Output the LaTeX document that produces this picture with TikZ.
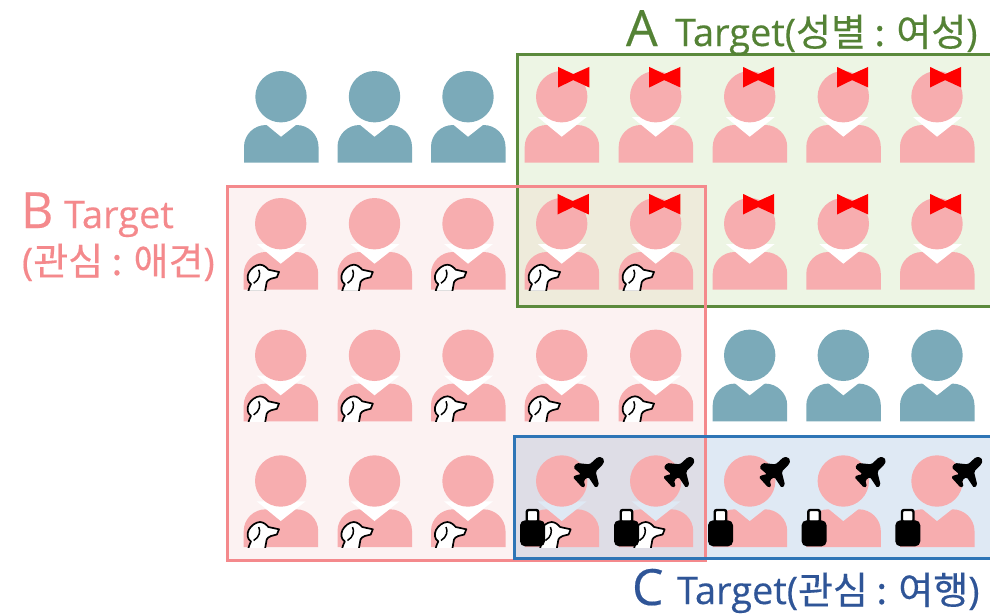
\documentclass[tikz,border=0pt]{standalone}
\usepackage{fontspec}
\setmainfont[FakeBold=0.35]{Open Sans}
\newfontfamily\krfont[FakeBold=0.4]{Noto Sans CJK KR}
\definecolor{agreen}{HTML}{5B8A3C}
\definecolor{atext}{HTML}{548235}
\definecolor{afill}{HTML}{EDF5E4}
\definecolor{bpink}{HTML}{F4898C}
\definecolor{bfill}{HTML}{FCF2F2}
\definecolor{cblue}{HTML}{2E75B6}
\definecolor{ctext}{HTML}{2F5597}
\definecolor{cfill}{HTML}{DFE9F4}
\definecolor{abfill}{HTML}{EEEBDB}
\definecolor{bcfill}{HTML}{DEDDE6}
\definecolor{pinkp}{HTML}{F7ADAF}
\definecolor{bluep}{HTML}{7BAAB9}
\tikzset{
  frameline/.style={line width=3pt},
  biglabel/.style={anchor=base west,inner sep=0pt,outer sep=0pt,font=\fontsize{50}{50}\selectfont},
  smalllabel/.style={anchor=base west,inner sep=0pt,outer sep=0pt,font=\fontsize{38}{40}\selectfont},
}
% body, collar, head
\newcommand{\persondraw}[4]{%
  \begin{scope}[shift={(#1,#2)}]
    \fill[#3] (-37,66) -- (-37,50) .. controls (-37,38) and (-27,28.3) .. (-15,28.3) -- (15.5,28.3)
       .. controls (27.5,28.3) and (37.5,38) .. (37.5,50) -- (37.5,66) -- cycle;
    \fill[#4] (-24,20.3) -- (25,20.3) -- (0,40) -- cycle;
    \fill[#3] (0,0) circle[radius=25.7];
  \end{scope}}
\newcommand{\bowdraw}[2]{%
  \begin{scope}[shift={(#1,#2)}]
    \fill[red] (-3.6,-29.8) -- (11.5,-22.6) -- (27.6,-29.8) -- (27.6,-9.2) -- (11.5,-16.6) -- (-3.6,-9.2) -- cycle;
  \end{scope}}
\newcommand{\dogdraw}[2]{%
  \begin{scope}[shift={(#1,#2)}]
    \begin{scope}
      \clip (-40,35) rectangle (10,66.3);
      \fill[white,draw=black,line width=1.7pt,line join=round]
        (-32.5,68) .. controls (-31.5,64) and (-30.5,62) .. (-29.7,60.5)
        .. controls (-33.5,58) and (-34,53) .. (-32,49)
        .. controls (-30,45) and (-25,41) .. (-20.7,41)
        .. controls (-17,41) and (-14,44) .. (-12.3,46)
        -- (-1.7,48.3) -- (-3.8,53.5) -- (-9.7,55)
        .. controls (-12,56) and (-13.5,57) .. (-14,58.5)
        -- (-15.7,68) -- cycle;
      \draw[black,line width=1.5pt] (-22,46) .. controls (-20,50) and (-21,56) .. (-27,59.5);
    \end{scope}
  \end{scope}}
\newcommand{\lugdraw}[2]{%
  \begin{scope}[shift={(#1,#2)}]
    \draw[black,fill=white,line width=2.4pt,rounded corners=2pt] (-35,29) rectangle (-23.5,41);
    \fill[black,rounded corners=5pt] (-41.7,39.3) rectangle (-16.7,65.3);
  \end{scope}}
\newcommand{\planedraw}[2]{%
  \begin{scope}[shift={(#1,#2)},x=0.3333pt,y=-0.3333pt]
    \fill[black,rounded corners=1.5pt]
      (108,-72) -- (120,-72) -- (128,-62) -- (124,-50)
      -- (102,-28) -- (112,12) -- (102,21) -- (80,-12) -- (66,-2) -- (71,17) -- (62,20)
      -- (33,-12) -- (44,-18) -- (58,-20) -- (35,-40) -- (45,-54) -- (84,-50) -- cycle;
  \end{scope}}
\begin{document}
\begin{tikzpicture}[x=1pt,y=-1pt]
\useasboundingbox (0,0) rectangle (990,613);
\begin{scope}
\clip (0,0) rectangle (990,613);
% region fills
\fill[afill] (517.3,54) rectangle (995,306.7);
\fill[bfill] (227,186) rectangle (705.7,560);
\fill[cfill] (514.3,436.7) rectangle (995,558);
\fill[abfill] (517.3,186) rectangle (705.7,306.7);
\fill[bcfill] (514.3,436.7) rectangle (705.7,558);
% region outlines
\draw[agreen,frameline] (517.3,54) rectangle (995,306.7);
\draw[bpink,frameline] (227,186) rectangle (705.7,560);
\draw[cblue,frameline] (514.3,436.7) rectangle (995,558);
\end{scope}
% row 1
\foreach \cx in {281,374.5,468}{\persondraw{\cx}{96.7}{bluep}{white}}
\foreach \cx/\bx in {561.7/561.7,655.7/652.8,749.7/746.6,843.3/840.6,937/933.6}{\persondraw{\cx}{96.7}{pinkp}{white}\bowdraw{\bx}{96.7}}
% row 2
\foreach \cx in {280.7,374.5,468}{\persondraw{\cx}{223.7}{pinkp}{white}\dogdraw{\cx}{223.7}}
\foreach \cx/\bx in {561.7/561.2,655.7/652.8}{\persondraw{\cx}{223.7}{pinkp}{white}\bowdraw{\bx}{223.7}\dogdraw{\cx}{223.7}}
\foreach \cx/\bx in {749.7/746.6,843.3/840.6,937/933.6}{\persondraw{\cx}{223.7}{pinkp}{white}\bowdraw{\bx}{223.7}}
% row 3
\foreach \cx in {280.7,374.5,468,561.7,655.7}{\persondraw{\cx}{355.3}{pinkp}{white}\dogdraw{\cx}{355.3}}
\foreach \cx in {749.7,843.3,937}{\persondraw{\cx}{355.3}{bluep}{white}}
% row 4
\foreach \cx in {280.7,374.5,468}{\persondraw{\cx}{481}{pinkp}{white}\dogdraw{\cx}{481}}
\foreach \cx/\px in {561.7/561.7,655.7/652}{\persondraw{\cx}{481}{pinkp}{cfill}\dogdraw{\cx+10.7}{481}\lugdraw{\cx}{481}\planedraw{\px}{481}}
\foreach \cx/\px in {749.7/747.7,843.3/843.3,937/940}{\persondraw{\cx}{481}{pinkp}{cfill}\lugdraw{\cx}{481}\planedraw{\px}{481}}
% labels
\node[biglabel,text=atext] (alabel) at (626,46) {A};
\node[smalllabel,text=atext] (atitle) at (675,46) {Target({\krfont 성별 : 여성})};
\node[biglabel,text=bpink] (blabel) at (21,228) {B};
\node[smalllabel,text=bpink] (btitle) at (64,228) {Target};
\node[smalllabel,text=bpink] (bsub) at (22,275) {({\krfont 관심 : 애견})};
\node[biglabel,text=ctext] (clabel) at (632,605) {C};
\node[smalllabel,text=ctext] (ctitle) at (677,604) {Target({\krfont 관심 : 여행})};
\end{tikzpicture}
\end{document}
